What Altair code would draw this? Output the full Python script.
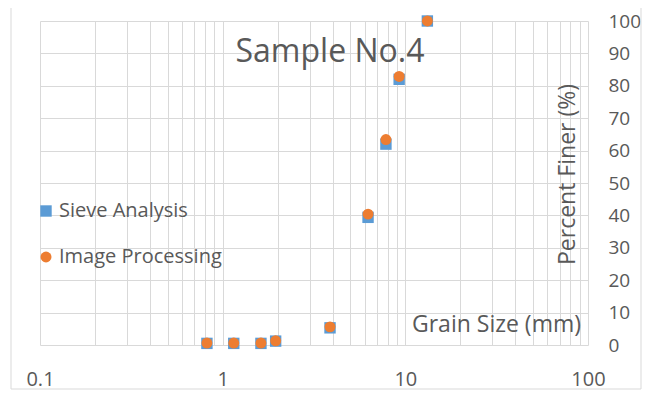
import altair as alt
import pandas as pd

# ---- data ----
grain_size_mm = [0.82, 1.15, 1.62, 1.95, 3.87, 6.25, 7.83, 9.25, 13.2]
sieve_analysis = [0.5, 0.5, 0.5, 1.2, 5.3, 39.4, 62.0, 82.0, 100.0]
image_processing = [0.6, 0.6, 0.6, 1.3, 5.6, 40.4, 63.4, 82.9, 100.0]

series_names = ["Sieve Analysis", "Image Processing"]
series_colors = ["#5B9BD5", "#ED7D31"]
series_shapes = ["square", "circle"]
series_sizes = [130, 120]

x_grid_values = [0.1, 0.2, 0.3, 0.4, 0.5, 0.6, 0.7, 0.8, 0.9,
                 1, 2, 3, 4, 5, 6, 7, 8, 9,
                 10, 20, 30, 40, 50, 60, 70, 80, 90, 100]
x_label_values = [0.1, 1, 10, 100]
y_tick_values = [0, 10, 20, 30, 40, 50, 60, 70, 80, 90, 100]

chart_title = "Sample No.4"
x_title = "Grain Size (mm)"
y_title = "Percent Finer (%)"

FONT = "Open Sans"
TXT = "#595959"
GRID = "#d9d9d9"

rows = []
for name, vals in zip(series_names, [sieve_analysis, image_processing]):
    for x, y in zip(grain_size_mm, vals):
        rows.append({"size": x, "finer": y, "series": name})
df = pd.DataFrame(rows)

label_expr = ("indexof([" + ", ".join(str(v) for v in x_label_values) +
              "], datum.value) >= 0 ? format(datum.value, '~g') : ''")

points = alt.Chart(df).mark_point(filled=True, opacity=1, clip=False).encode(
    x=alt.X("size:Q",
            scale=alt.Scale(type="log", domain=[0.1, 100], nice=False),
            axis=alt.Axis(values=x_grid_values, labelExpr=label_expr,
                          labelOverlap=False, labelFlush=False, labelPadding=24,
                          labelFontSize=20,
                          title=x_title, titleX=456, titleY=-21,
                          titleAlign="center", titleBaseline="middle")),
    y=alt.Y("finer:Q",
            scale=alt.Scale(domain=[0, 100], nice=False),
            axis=alt.Axis(orient="right", values=y_tick_values,
                          labelPadding=20, labelFontSize=19, title=y_title,
                          titleX=-21, titleY=153, titleAngle=270,
                          titleAlign="center", titleBaseline="middle")),
    color=alt.Color("series:N",
                    scale=alt.Scale(domain=series_names, range=series_colors),
                    legend=alt.Legend(title=None, orient="none",
                                      legendX=-4, legendY=180)),
    shape=alt.Shape("series:N",
                    scale=alt.Scale(domain=series_names, range=series_shapes)),
    size=alt.Size("series:N",
                  scale=alt.Scale(domain=series_names, range=series_sizes),
                  legend=None),
)

one = pd.DataFrame({"t": [chart_title]})

border = alt.Chart(one).mark_rect(fillOpacity=0, stroke=GRID, strokeWidth=1,
                                  clip=False).encode(
    x=alt.value(-29), x2=alt.value(601), y=alt.value(-15), y2=alt.value(368)
)

title = alt.Chart(one).mark_text(font=FONT, fontSize=32, color=TXT,
                                 align="center", baseline="middle").encode(
    text="t:N", x=alt.value(290), y=alt.value(31)
)

chart = alt.layer(border, points, title).properties(
    width=548, height=324,
    padding={"left": 32, "top": 13, "right": 54, "bottom": 45},
    autosize="none",
).configure_view(stroke=None).configure_axis(
    grid=True, gridColor=GRID, gridWidth=1, domain=False, ticks=False,
    labelFont=FONT, labelColor=TXT,
    titleFont=FONT, titleFontSize=23, titleFontWeight="normal", titleColor=TXT,
).configure_legend(
    labelFont=FONT, labelFontSize=20, labelColor=TXT, padding=0, labelLimit=400,
    rowPadding=26, labelOffset=3, symbolSize=130, symbolStrokeWidth=0,
)

chart.save("out.html", embed_options={"renderer": "svg", "actions": False})
